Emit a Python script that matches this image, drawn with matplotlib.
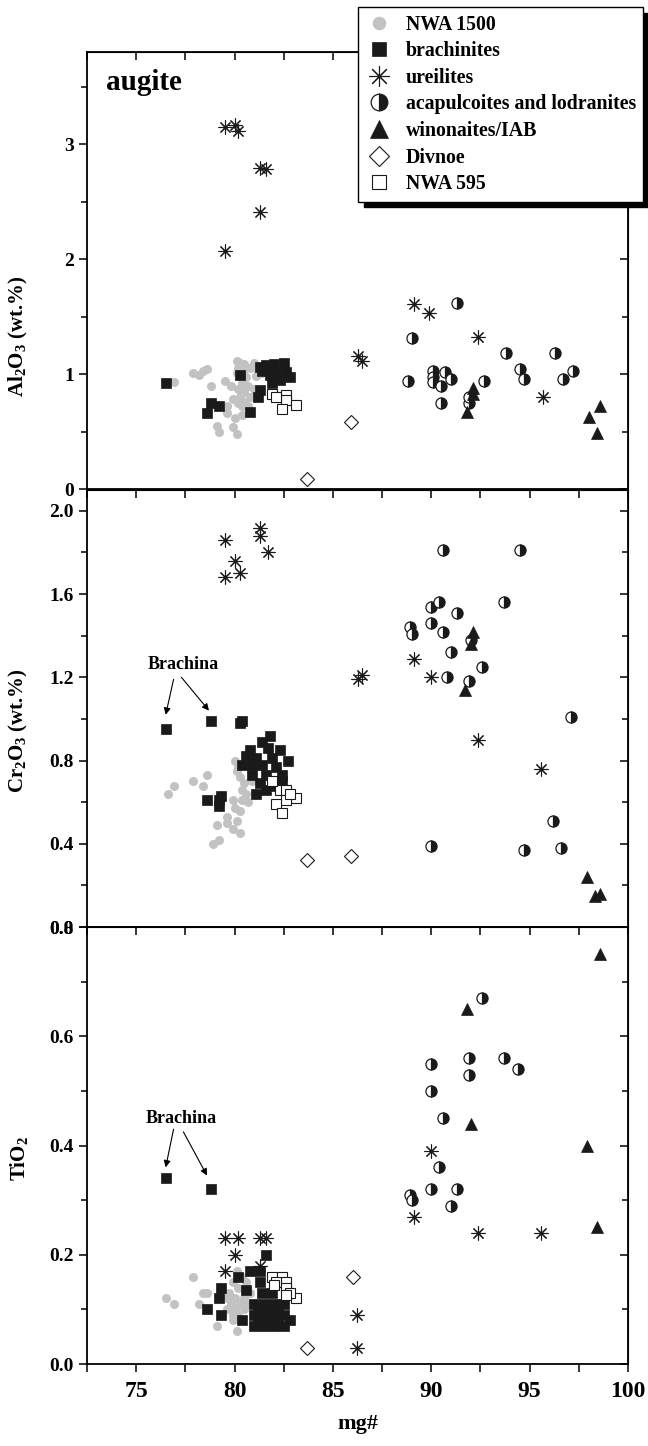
import matplotlib
matplotlib.use("Agg")
import matplotlib.pyplot as plt
from matplotlib.lines import Line2D
from matplotlib.ticker import MultipleLocator

plt.rcParams['font.family'] = ['Liberation Serif', 'DejaVu Serif']
plt.rcParams['font.weight'] = 'bold'
plt.rcParams['mathtext.default'] = 'regular'

# ---- data: (mg#, wt.%) ----
# Al2O3 panel
al_nwa1500 = [(76.6, 0.92), (76.9, 0.93), (77.9, 1.01), (78.2, 0.99), (78.4, 1.03), (78.6, 1.04),
              (78.8, 0.90), (79.5, 0.94), (79.8, 0.90), (79.9, 0.78), (79.6, 0.72), (79.6, 0.66),
              (80.0, 0.62), (80.4, 0.72), (80.4, 0.64), (80.7, 0.72), (79.1, 0.55), (79.2, 0.50),
              (79.9, 0.54), (80.1, 0.48), (80.1, 1.11), (80.3, 1.10), (80.5, 1.09), (81.0, 1.10),
              (80.2, 1.05), (80.5, 1.04), (80.8, 1.05), (81.2, 1.02), (80.1, 1.01), (80.3, 0.98),
              (80.6, 0.97), (81.1, 0.98), (81.4, 1.01), (81.8, 1.00), (80.4, 0.92), (80.7, 0.90),
              (81.0, 0.87), (80.5, 0.84), (80.3, 0.80), (80.8, 0.80), (80.2, 0.87), (80.5, 0.76),
              (80.2, 0.75)]
al_brach = [(76.5, 0.92), (78.8, 0.75), (79.2, 0.72), (78.6, 0.66), (80.8, 0.67), (81.2, 0.80),
            (81.3, 0.86), (81.6, 1.08), (82.0, 1.09), (82.5, 1.10), (82.8, 0.97), (82.3, 0.95),
            (81.8, 0.99), (81.3, 1.06), (82.6, 1.02), (81.9, 0.92), (80.3, 0.99), (81.4, 1.03),
            (82.1, 1.02)]
al_ureil = [(79.5, 3.15), (80.0, 3.17), (80.2, 3.11), (81.3, 2.79), (81.6, 2.78), (81.3, 2.41),
            (79.5, 2.07), (89.1, 1.61), (89.9, 1.53), (92.4, 1.32), (86.3, 1.16), (86.5, 1.11),
            (95.7, 0.80)]
al_acap = [(91.3, 1.62), (89.0, 1.31), (93.8, 1.18), (96.3, 1.18), (90.1, 1.03), (90.7, 1.02),
           (88.8, 0.94), (90.1, 0.97), (90.1, 0.93), (90.5, 0.90), (91.0, 0.96), (92.7, 0.94),
           (94.5, 1.04), (94.7, 0.96), (96.7, 0.96), (97.2, 1.03), (90.5, 0.75), (91.9, 0.75),
           (91.9, 0.80)]
al_wino = [(92.1, 0.88), (92.1, 0.83), (91.8, 0.67), (98.0, 0.63), (98.6, 0.72), (98.4, 0.49)]
al_divnoe = [(85.9, 0.58), (83.7, 0.09)]
al_nwa595 = [(81.9, 0.83), (82.3, 0.80), (82.6, 0.82), (82.6, 0.77), (83.1, 0.73), (82.4, 0.70),
             (82.1, 0.80)]

# Cr2O3 panel
cr_nwa1500 = [(76.6, 0.64), (76.9, 0.68), (77.9, 0.70), (78.4, 0.68), (78.6, 0.73), (79.1, 0.49),
              (79.2, 0.42), (79.9, 0.61), (79.6, 0.53), (79.6, 0.50), (79.9, 0.47), (80.0, 0.80),
              (80.1, 0.75), (80.3, 0.72), (80.4, 0.66), (80.4, 0.61), (80.3, 0.56), (80.1, 0.51),
              (80.5, 0.69), (80.6, 0.64), (80.9, 0.70), (80.3, 0.45), (78.9, 0.40), (80.2, 0.77),
              (80.7, 0.60), (80.0, 0.57)]
cr_brach = [(76.5, 0.95), (78.8, 0.99), (80.3, 0.98), (80.4, 0.99), (78.6, 0.61), (79.3, 0.63),
            (79.2, 0.58), (79.2, 0.61), (81.8, 0.92), (81.4, 0.89), (80.8, 0.85), (81.7, 0.86),
            (82.3, 0.85), (80.6, 0.82), (81.1, 0.81), (81.9, 0.81), (82.7, 0.80), (80.4, 0.78),
            (80.9, 0.78), (81.4, 0.78), (82.1, 0.77), (80.9, 0.73), (81.6, 0.73), (82.4, 0.73),
            (81.3, 0.69), (81.9, 0.68), (81.1, 0.64), (81.6, 0.66), (82.4, 0.70)]
cr_ureil = [(79.5, 1.86), (81.3, 1.92), (81.3, 1.88), (81.7, 1.80), (80.0, 1.76), (79.5, 1.68),
            (80.3, 1.70), (86.3, 1.19), (86.5, 1.21), (89.1, 1.29), (90.0, 1.20), (92.4, 0.90),
            (95.6, 0.76)]
cr_acap = [(90.6, 1.81), (94.5, 1.81), (90.0, 1.54), (90.4, 1.56), (93.7, 1.56), (88.9, 1.44),
           (89.0, 1.41), (90.0, 1.46), (90.6, 1.42), (91.3, 1.51), (91.0, 1.32), (92.0, 1.38),
           (92.6, 1.25), (91.9, 1.18), (90.8, 1.20), (97.1, 1.01), (96.2, 0.51), (90.0, 0.39),
           (94.7, 0.37), (96.6, 0.38)]
cr_wino = [(92.1, 1.42), (92.0, 1.36), (91.7, 1.14), (97.9, 0.24), (98.3, 0.15), (98.6, 0.16)]
cr_divnoe = [(83.7, 0.32), (85.9, 0.34)]
cr_nwa595 = [(82.3, 0.66), (82.6, 0.66), (83.1, 0.62), (82.6, 0.61), (82.1, 0.59), (82.4, 0.55),
             (82.8, 0.64), (81.9, 0.70)]

# TiO2 panel
ti_nwa1500 = [(76.5, 0.12), (76.9, 0.11), (77.9, 0.16), (78.4, 0.13), (78.6, 0.13), (78.2, 0.11),
              (79.1, 0.07), (80.1, 0.06), (79.9, 0.08), (79.6, 0.10), (79.7, 0.13), (79.9, 0.15),
              (80.0, 0.12), (80.2, 0.14), (80.4, 0.16), (80.0, 0.10), (80.3, 0.11), (80.5, 0.12),
              (80.1, 0.17), (79.8, 0.11), (80.6, 0.15), (80.8, 0.13), (79.6, 0.12), (80.2, 0.09),
              (80.5, 0.10), (79.9, 0.09), (80.7, 0.11)]
ti_brach = [(76.5, 0.34), (78.8, 0.32), (81.6, 0.20), (79.3, 0.14), (79.2, 0.12), (78.6, 0.10),
            (79.3, 0.09), (80.4, 0.08), (80.6, 0.135), (80.2, 0.16), (80.8, 0.17), (81.3, 0.17),
            (81.3, 0.15), (81.4, 0.13), (81.9, 0.13), (81.0, 0.11), (81.5, 0.11), (82.0, 0.11),
            (82.5, 0.11), (81.0, 0.09), (81.5, 0.09), (82.0, 0.09), (82.5, 0.09), (82.8, 0.08),
            (81.0, 0.07), (81.5, 0.07), (82.0, 0.07), (82.5, 0.07), (81.2, 0.10), (81.7, 0.10),
            (82.2, 0.10), (81.2, 0.08), (81.7, 0.08), (82.2, 0.08)]
ti_ureil = [(79.5, 0.23), (80.2, 0.23), (81.3, 0.23), (81.6, 0.23), (80.0, 0.20), (79.5, 0.17),
            (81.3, 0.18), (86.2, 0.03), (86.2, 0.09), (90.0, 0.39), (89.1, 0.27), (92.4, 0.24),
            (95.6, 0.24)]
ti_acap = [(92.6, 0.67), (90.0, 0.55), (91.9, 0.56), (93.7, 0.56), (94.4, 0.54), (91.9, 0.53),
           (90.0, 0.50), (90.6, 0.45), (90.4, 0.36), (90.0, 0.32), (91.3, 0.32), (88.9, 0.31),
           (89.0, 0.30), (91.0, 0.29)]
ti_wino = [(98.6, 0.75), (91.8, 0.65), (92.0, 0.44), (97.9, 0.40), (98.4, 0.25)]
ti_divnoe = [(86.0, 0.16), (83.7, 0.03)]
ti_nwa595 = [(81.9, 0.16), (82.4, 0.16), (82.6, 0.15), (82.1, 0.15), (82.6, 0.14), (83.1, 0.12),
             (82.8, 0.13), (82.0, 0.145), (82.6, 0.127)]

labels = ['NWA 1500', 'brachinites', 'ureilites', 'acapulcoites and lodranites',
          'winonaites/IAB', 'Divnoe', 'NWA 595']

styles = [
    dict(marker='o', ms=6.5, mfc='#c2c2c2', mec='#c2c2c2', mew=0),
    dict(marker='s', ms=6.5, mfc='#1a1a1a', mec='#1a1a1a', mew=0.5),
    dict(marker=(8, 2, 0), ms=10, mec='#1a1a1a', mew=0.8),
    dict(marker='o', ms=8, fillstyle='right', mfc='#1a1a1a', markerfacecoloralt='white',
         mec='#1a1a1a', mew=0.9),
    dict(marker='^', ms=8.5, mfc='#1a1a1a', mec='#1a1a1a', mew=0.5),
    dict(marker='D', ms=7, mfc='white', mec='#1a1a1a', mew=0.8),
    dict(marker='s', ms=7, mfc='white', mec='#1a1a1a', mew=0.8),
]

panels = [
    ([al_nwa1500, al_brach, al_ureil, al_acap, al_wino, al_divnoe, al_nwa595],
     'Al$_2$O$_3$ (wt.%)', (0, 3.8), 1, 0.5, '%d', 0.35),
    ([cr_nwa1500, cr_brach, cr_ureil, cr_acap, cr_wino, cr_divnoe, cr_nwa595],
     'Cr$_2$O$_3$ (wt.%)', (0, 2.1), 0.4, 0.2, '%.1f', 0.45),
    ([ti_nwa1500, ti_brach, ti_ureil, ti_acap, ti_wino, ti_divnoe, ti_nwa595],
     'TiO$_2$', (0, 0.8), 0.2, 0.1, '%.1f', 0.47),
]

fig = plt.figure(figsize=(6.48, 14.46), dpi=100)
left, width = 87 / 648, 541 / 648
bottoms = [0.6618, 0.3589, 0.0567]
height = 0.3022

axes = []
for (groups, ylab, ylim, major, minor, fmt, labpos), b in zip(panels, bottoms):
    ax = fig.add_axes([left, b, width, height])
    for pts, st in zip(groups, styles):
        xs = [p[0] for p in pts]
        ys = [p[1] for p in pts]
        ax.plot(xs, ys, ls='none', **st)
    ax.set_xlim(72.5, 100)
    ax.set_ylim(*ylim)
    ax.xaxis.set_major_locator(MultipleLocator(5))
    ax.xaxis.set_minor_locator(MultipleLocator(2.5))
    ax.yaxis.set_major_locator(MultipleLocator(major))
    ax.yaxis.set_minor_locator(MultipleLocator(minor))
    ax.yaxis.set_major_formatter(plt.FormatStrFormatter(fmt))
    ax.tick_params(which='both', direction='out', width=1.1, labelsize=14)
    ax.tick_params(which='major', length=6)
    ax.tick_params(which='minor', length=4)
    ax.tick_params(axis='x', which='both', length=6)
    for s in ax.spines.values():
        s.set_linewidth(1.3)
    # mirrored ticks pointing inward
    top = ax.secondary_xaxis('top')
    top.xaxis.set_major_locator(MultipleLocator(2.5))
    top.tick_params(direction='in', length=6, width=1.1, labeltop=False)
    right = ax.secondary_yaxis('right')
    right.yaxis.set_major_locator(MultipleLocator(major))
    right.yaxis.set_minor_locator(MultipleLocator(minor))
    right.tick_params(which='both', direction='in', width=1.1, labelright=False)
    right.tick_params(which='major', length=6)
    right.tick_params(which='minor', length=4)
    ax.set_ylabel(ylab, fontsize=15, fontweight='bold')
    ax.yaxis.set_label_coords(-0.105, labpos)
    axes.append(ax)

for ax in axes[:2]:
    ax.tick_params(axis='x', labelbottom=False)
axes[2].tick_params(axis='x', labelsize=17, pad=6)
axes[2].set_xlabel('mg#', fontsize=16, fontweight='bold', labelpad=9)

axes[0].text(0.035, 0.93, 'augite', transform=axes[0].transAxes, fontsize=21,
             fontweight='bold', va='center', ha='left')

arrow = dict(arrowstyle='-|>', color='black', lw=0.8, mutation_scale=10, shrinkA=0, shrinkB=0)
axes[1].text(77.4, 1.26, 'Brachina', fontsize=13, fontweight='bold', ha='center', va='center')
axes[1].annotate('', xy=(76.5, 1.02), xytext=(76.9, 1.19), arrowprops=arrow)
axes[1].annotate('', xy=(78.7, 1.04), xytext=(77.3, 1.20), arrowprops=arrow)
axes[2].text(77.3, 0.45, 'Brachina', fontsize=13, fontweight='bold', ha='center', va='center')
axes[2].annotate('', xy=(76.5, 0.36), xytext=(76.9, 0.43), arrowprops=arrow)
axes[2].annotate('', xy=(78.6, 0.345), xytext=(77.4, 0.425), arrowprops=arrow)

handles = [Line2D([], [], ls='none', **st) for st in styles]
leg = fig.legend(handles, labels, loc='upper right', bbox_to_anchor=(0.993, 0.995),
                 borderaxespad=0, markerscale=1.5,
                 frameon=True, fancybox=False, framealpha=1, edgecolor='black',
                 prop={'family': 'Liberation Serif', 'weight': 'bold', 'size': 14.3},
                 handlelength=1.3, handletextpad=0.7, labelspacing=0.33, borderpad=0.38,
                 shadow={'ox': 4, 'oy': -4, 'color': 'black', 'alpha': 1})
leg.get_frame().set_linewidth(1.0)

fig.savefig('out.png', dpi=100)
